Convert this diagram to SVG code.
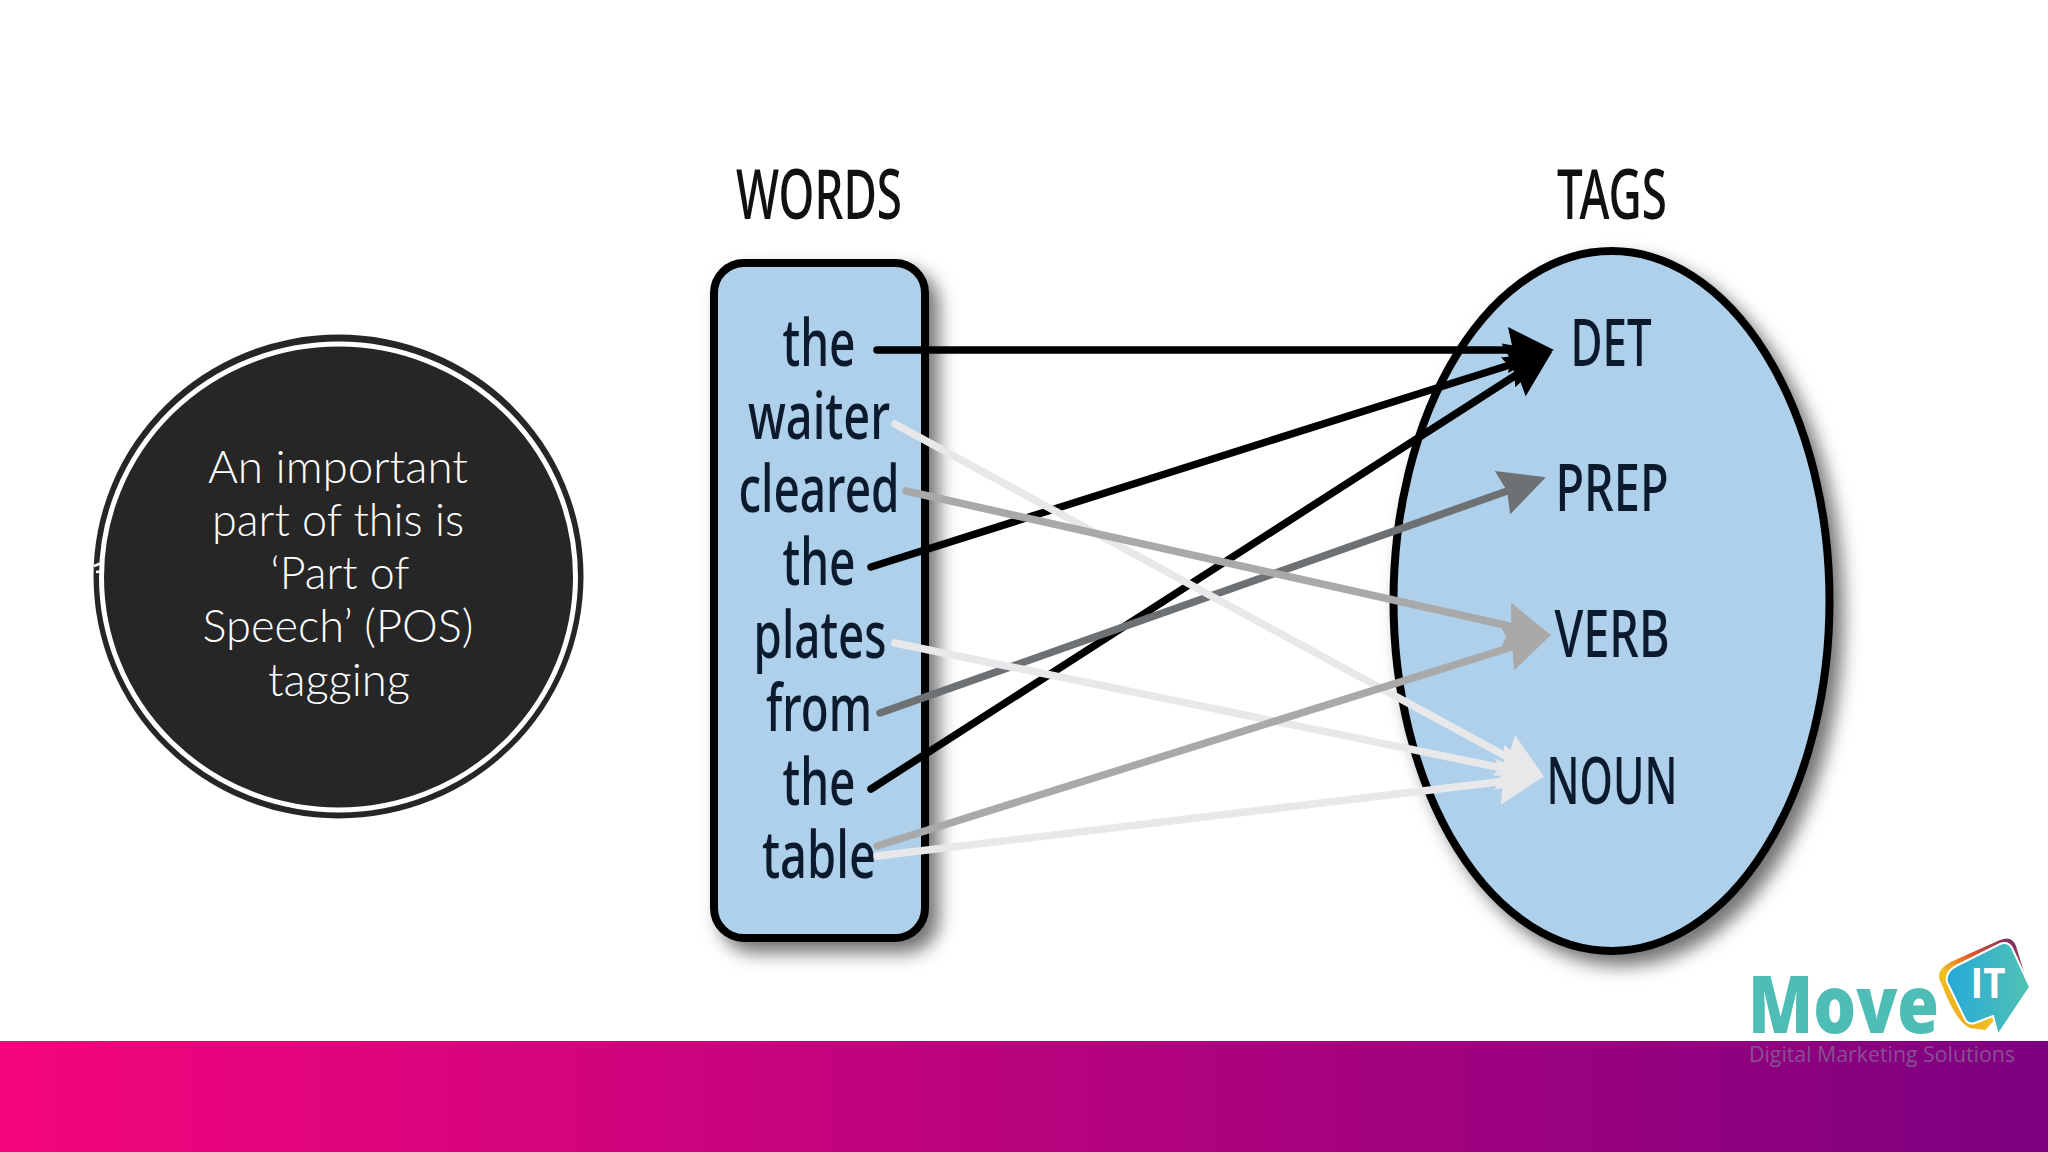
<svg xmlns="http://www.w3.org/2000/svg" width="2048" height="1152" viewBox="0 0 2048 1152">
<style>
.body{font-family:"Lato","Open Sans",sans-serif;font-weight:300;font-size:45px;fill:#fff;text-anchor:middle}
.w{font-family:"Noto Sans","Liberation Sans",sans-serif;font-weight:500;font-size:65px;fill:#0b1a2c;text-anchor:middle}
.h{font-family:"Noto Sans","Liberation Sans",sans-serif;font-weight:500;font-size:69px;fill:#111;text-anchor:middle}
.shape{fill:#aed0ea;stroke:#000;stroke-width:8;filter:url(#sh)}
.c{fill:none;stroke-width:7.5;stroke-linecap:round}
.k{stroke:#000;marker-end:url(#mk)}
.d{stroke:#6d7174;marker-end:url(#md)}
.g{stroke:#a9a9a9;marker-end:url(#mg)}
.l{stroke:#e8e8ea;marker-end:url(#ml)}
</style>
<defs>
<filter id="sh" x="-20%" y="-20%" width="140%" height="140%"><feDropShadow dx="10" dy="11" stdDeviation="9" flood-color="#000" flood-opacity=".55"/></filter>
<linearGradient id="band" x1="0" x2="1" y1="0" y2="0"><stop offset="0" stop-color="#f4057c"/><stop offset="1" stop-color="#7d0080"/></linearGradient>
<linearGradient id="rim" x1="0" x2="1" y1="1" y2="0"><stop offset="0" stop-color="#f0a020"/><stop offset=".35" stop-color="#f0c020"/><stop offset=".6" stop-color="#e0502a"/><stop offset="1" stop-color="#5a2a78"/></linearGradient>
<linearGradient id="bub" x1="0" x2="1" y1="0" y2="0"><stop offset="0" stop-color="#25a9d8"/><stop offset="1" stop-color="#52c2b4"/></linearGradient>
<marker id="mk" markerUnits="userSpaceOnUse" markerWidth="60" markerHeight="60" refX="8" refY="30" orient="auto"><path d="M0,7L46,30L0,53L5,30z" fill="#000"/></marker>
<marker id="md" markerUnits="userSpaceOnUse" markerWidth="60" markerHeight="60" refX="8" refY="30" orient="auto"><path d="M0,7L46,30L0,53L5,30z" fill="#6d7174"/></marker>
<marker id="mg" markerUnits="userSpaceOnUse" markerWidth="60" markerHeight="60" refX="8" refY="30" orient="auto"><path d="M0,7L46,30L0,53L5,30z" fill="#a9a9a9"/></marker>
<marker id="ml" markerUnits="userSpaceOnUse" markerWidth="60" markerHeight="60" refX="8" refY="30" orient="auto"><path d="M0,7L46,30L0,53L5,30z" fill="#e8e8ea"/></marker>
</defs>
<rect width="2048" height="1152" fill="#fff"/>
<rect id="band-bottom" x="0" y="1041" width="2048" height="111" fill="url(#band)"/>

<g id="callout">
<ellipse cx="338.5" cy="576.5" rx="245" ry="242" fill="#262626"/>
<ellipse cx="338.5" cy="577" rx="237" ry="233" fill="none" stroke="#fff" stroke-width="5"/>
<path d="M94,566l10,-4M96,572l8,-1" stroke="#fff" stroke-width="2.5" fill="none"/>
<text class="body" x="338" y="483" textLength="260" lengthAdjust="spacingAndGlyphs">An important</text>
<text class="body" x="338" y="536" textLength="252" lengthAdjust="spacingAndGlyphs">part of this is</text>
<text class="body" x="340" y="589" textLength="139" lengthAdjust="spacingAndGlyphs">‘Part of</text>
<text class="body" x="338" y="642" textLength="271" lengthAdjust="spacingAndGlyphs">Speech’ (POS)</text>
<text class="body" x="339" y="696" textLength="142" lengthAdjust="spacingAndGlyphs">tagging</text>
</g>

<g id="words">
<text class="h" x="819" y="219" textLength="166" lengthAdjust="spacingAndGlyphs">WORDS</text>
<rect class="shape" x="714" y="263" width="211" height="675" rx="30"/>
<text class="w" x="819" y="366" textLength="73" lengthAdjust="spacingAndGlyphs">the</text>
<text class="w" x="819" y="439" textLength="142" lengthAdjust="spacingAndGlyphs">waiter</text>
<text class="w" x="819" y="512" textLength="161" lengthAdjust="spacingAndGlyphs">cleared</text>
<text class="w" x="819" y="585" textLength="73" lengthAdjust="spacingAndGlyphs">the</text>
<text class="w" x="820" y="658" textLength="133" lengthAdjust="spacingAndGlyphs">plates</text>
<text class="w" x="819" y="731" textLength="106" lengthAdjust="spacingAndGlyphs">from</text>
<text class="w" x="819" y="805" textLength="73" lengthAdjust="spacingAndGlyphs">the</text>
<text class="w" x="819" y="878" textLength="114" lengthAdjust="spacingAndGlyphs">table</text>
</g>

<g id="tags">
<text class="h" x="1612" y="219" textLength="110" lengthAdjust="spacingAndGlyphs">TAGS</text>
<ellipse class="shape" cx="1611.5" cy="601" rx="218" ry="350"/>
<text class="w" x="1611" y="366" textLength="81" lengthAdjust="spacingAndGlyphs">DET</text>
<text class="w" x="1612" y="511" textLength="113" lengthAdjust="spacingAndGlyphs">PREP</text>
<text class="w" x="1612" y="657" textLength="115" lengthAdjust="spacingAndGlyphs">VERB</text>
<text class="w" x="1612" y="804" textLength="131" lengthAdjust="spacingAndGlyphs">NOUN</text>
</g>

<g id="connectors">
<path class="c k" d="M877,350L1516,350"/>
<path class="c k" d="M871,567L1516,363"/>
<path class="c k" d="M871,789L1520,372.5"/>
<path class="c d" d="M880,713L1510,490"/>
<path class="c l" d="M895,424L1511,759"/>
<path class="c l" d="M895,643L1507,769"/>
<path class="c g" d="M906,491L1514,627"/>
<path class="c g" d="M877,846L1515,646"/>
<path class="c l" d="M877,856L1506,781"/>
</g>

<g id="logo">
<path d="M1955,960L2000,940Q2012,935 2016,946L2028,985L1985,1030L1970,1028Q1956,1022 1942,985Q1932,970 1955,960z" fill="url(#rim)"/>
<path d="M1956,966L2000,944Q2008,941 2012,948L2030,987L1998,1035L1993,1016L1975,1023Q1968,1025 1965,1019L1947,982Q1945,972 1956,966z" fill="url(#bub)" stroke="#fff" stroke-width="2"/>
<text x="1988" y="998" font-family="'Open Sans','Noto Sans',sans-serif" font-weight="700" font-size="42" fill="#fff" text-anchor="middle" textLength="35" lengthAdjust="spacingAndGlyphs">IT</text>
<text x="1748" y="1033" font-family="'Open Sans','Noto Sans',sans-serif" font-weight="800" font-size="79" fill="#4dbdb5" textLength="191" lengthAdjust="spacingAndGlyphs">Move</text>
<text x="1749" y="1062" font-family="'Open Sans','Noto Sans',sans-serif" font-size="22" fill="#8a4f92" textLength="266" lengthAdjust="spacingAndGlyphs">Digital Marketing Solutions</text>
</g>
</svg>
